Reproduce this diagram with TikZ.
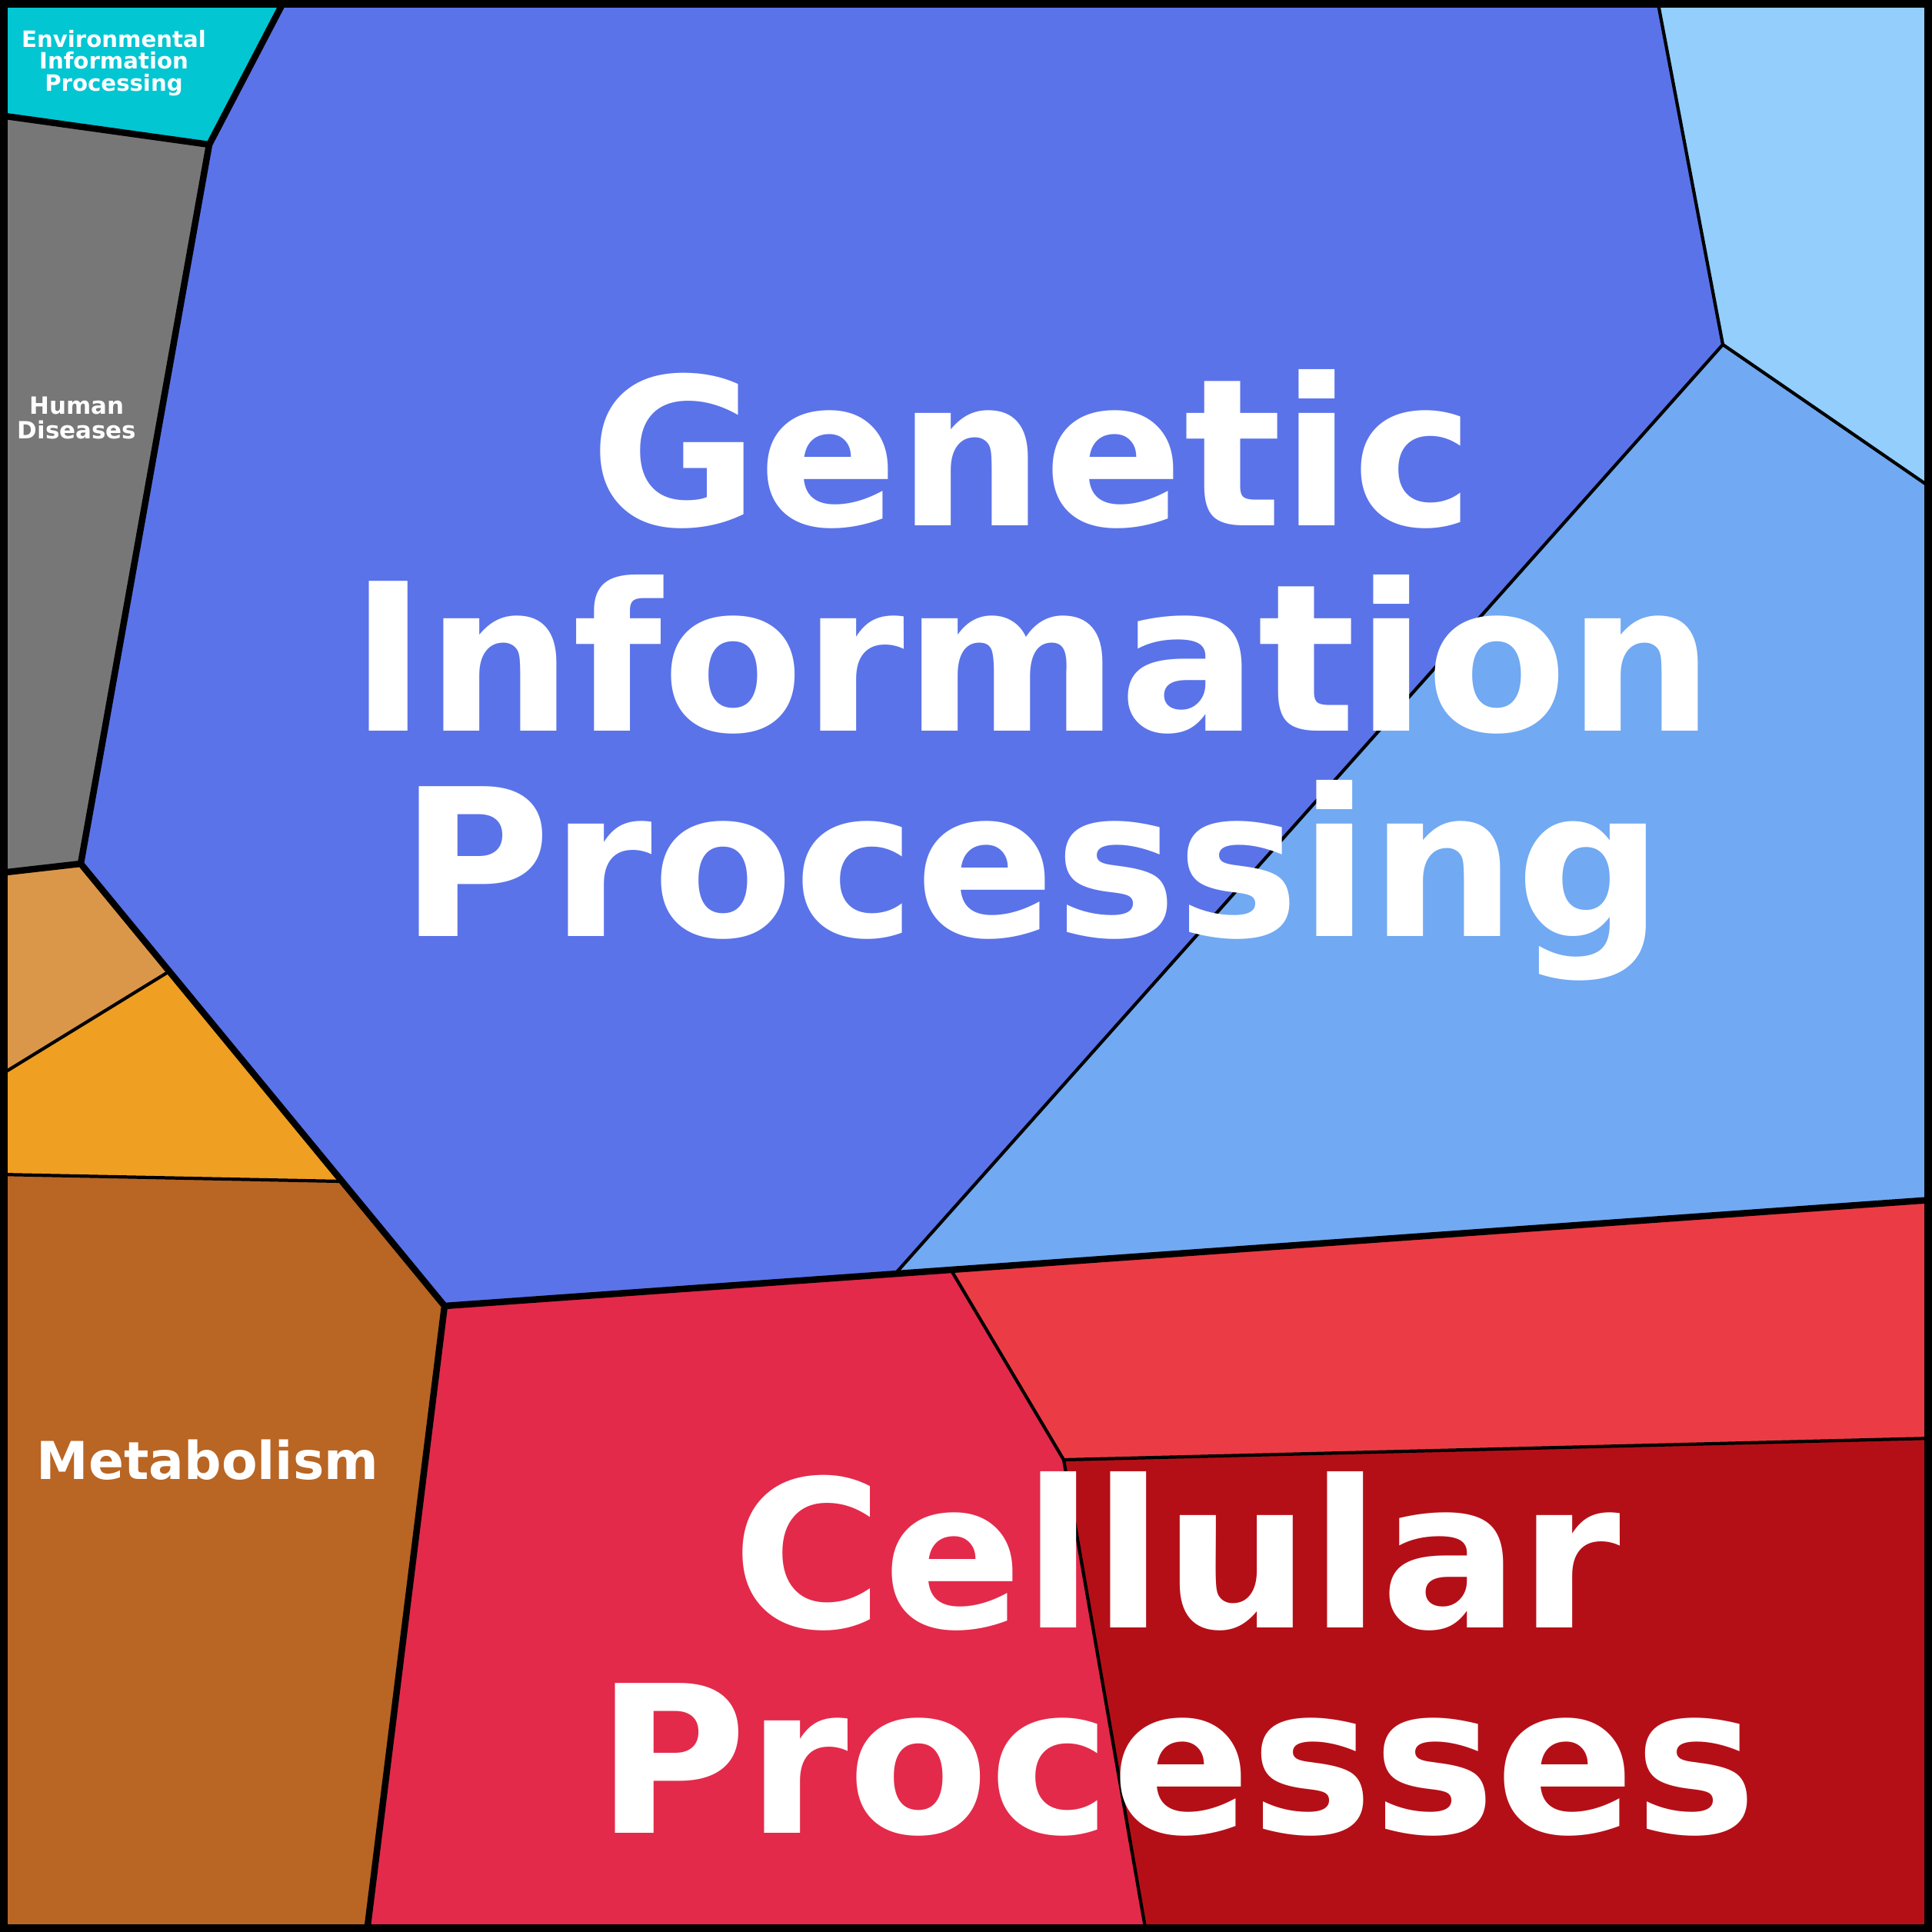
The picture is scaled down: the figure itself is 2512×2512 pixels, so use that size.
\documentclass[tikz,border=0pt]{standalone}
\usepackage{fontspec}
\setmainfont{DejaVu Sans}
\definecolor{envinfo}{HTML}{03C6D3}
\definecolor{humandis}{HTML}{777777}
\definecolor{genetic}{HTML}{5A73E9}
\definecolor{skyblue}{HTML}{93CEFC}
\definecolor{midblue}{HTML}{71A9F2}
\definecolor{orangelt}{HTML}{DB9749}
\definecolor{orangemd}{HTML}{EF9F21}
\definecolor{metab}{HTML}{B96524}
\definecolor{crimson}{HTML}{E32A4A}
\definecolor{redlt}{HTML}{EB3C45}
\definecolor{reddk}{HTML}{B40F17}
\tikzset{
  cell/.style={draw=black,line width=1.2pt},
  border/.style={draw=black,line width=2.4pt,line join=round},
  label/.style={text=white,font=\bfseries,align=center,inner sep=0pt}
}
\begin{document}
\begin{tikzpicture}[x=0.01cm,y=-0.01cm]
	\useasboundingbox (0,0) rectangle (2512,2512);
	%cells
	\fill[envinfo]  (0,0)--(370,0)--(272,188)--(0,150)--cycle;
	\fill[humandis] (0,150)--(272,188)--(105,1123)--(0,1135)--cycle;
	\fill[genetic]  (370,0)--(2155,0)--(2240,448)--(1165,1655)--(578,1698)--(105,1123)--(272,188)--cycle;
	\fill[skyblue]  (2155,0)--(2512,0)--(2512,635)--(2240,448)--cycle;
	\fill[midblue]  (2240,448)--(2512,635)--(2512,1560)--(1165,1655)--cycle;
	\fill[orangelt] (0,1135)--(105,1123)--(220,1263)--(0,1398)--cycle;
	\fill[orangemd] (0,1398)--(220,1263)--(443,1536)--(0,1527)--cycle;
	\fill[metab]    (0,1527)--(443,1536)--(578,1698)--(477,2512)--(0,2512)--cycle;
	\fill[crimson]  (578,1698)--(1237,1652)--(1383,1898)--(1490,2512)--(477,2512)--cycle;
	\fill[redlt]    (1237,1652)--(2512,1560)--(2512,1870)--(1383,1898)--cycle;
	\fill[reddk]    (1383,1898)--(2512,1870)--(2512,2512)--(1490,2512)--cycle;
	%thin edges
	\draw[cell] (2155,0)--(2240,448)--(2512,635);
	\draw[cell] (2240,448)--(1165,1655);
	\draw[cell] (0,1398)--(220,1263);
	\draw[cell] (0,1527)--(443,1536);
	\draw[cell] (1237,1652)--(1383,1898)--(1490,2512);
	\draw[cell] (1383,1898)--(2512,1870);
	%thick edges
	\draw[border] (0,150)--(272,188)--(370,0);
	\draw[border] (272,188)--(105,1123)--(0,1135);
	\draw[border] (105,1123)--(578,1698)--(477,2512);
	\draw[border] (578,1698)--(2512,1560);
	\draw[draw=black,line width=2.8pt] (5,5) rectangle (2507,2507);
	%labels
	\node[label,font=\bfseries\fontsize{76}{76}\selectfont] (gip) at (1342,878) {Genetic\\Information\\Processing};
	\node[label,font=\bfseries\fontsize{76}{76}\selectfont] (cp) at (1530,2150) {Cellular\\Processes};
	\node[label,font=\bfseries\fontsize{19.3}{22}\selectfont] (met) at (270,1898) {Metabolism};
	\node[label,font=\bfseries\fontsize{8.8}{9.1}\selectfont] (hd) at (100,543) {Human\\Diseases};
	\node[label,font=\bfseries\fontsize{8.3}{8.2}\selectfont] (eip) at (148,82) {Environmental\\Information\\Processing};
\end{tikzpicture}
\end{document}
